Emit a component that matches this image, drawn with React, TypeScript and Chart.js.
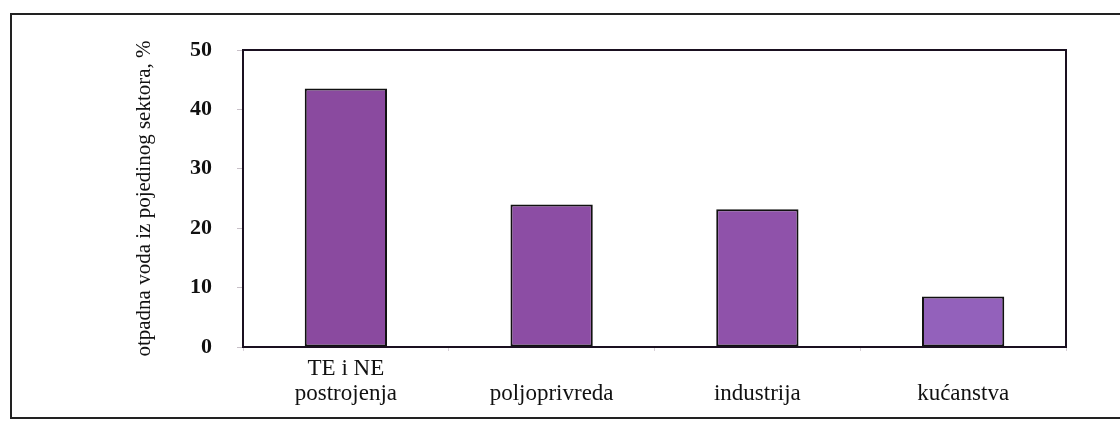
import React, { useEffect, useRef } from "react";
import { Chart, registerables } from "chart.js";

Chart.register(...registerables);

const categories: string[][] = [["TE i NE", "postrojenja"], ["", "poljoprivreda"], ["", "industrija"], ["", "kućanstva"]];
const values: number[] = [43.5, 24, 23.2, 8.5];
const yTicks: number[] = [0, 10, 20, 30, 40, 50];
const yTitle = "otpadna voda iz pojedinog sektora, %";
const barColors: string[] = ["#8a4a9f", "#8c4da4", "#8f52aa", "#9361bb"];

const framePlugin = {
  id: "frameBox",
  afterDatasetsDraw(chart: any) {
    const { ctx, chartArea } = chart;
    ctx.save();
    ctx.strokeStyle = "#1a1020";
    ctx.lineWidth = 2;
    ctx.strokeRect(chartArea.left, chartArea.top, chartArea.right - chartArea.left, chartArea.bottom - chartArea.top);
    ctx.restore();
  },
};

export default function App() {
  const ref = useRef<HTMLCanvasElement | null>(null);
  useEffect(() => {
    if (!ref.current) return;
    const chart = new Chart(ref.current, {
      type: "bar",
      data: {
        labels: categories,
        datasets: [
          {
            data: values,
            backgroundColor: barColors,
            borderColor: "#111",
            borderWidth: 2,
            borderSkipped: false,
            barPercentage: 0.4,
            categoryPercentage: 1,
          },
        ],
      },
      options: {
        animation: false,
        responsive: false,
        maintainAspectRatio: false,
        layout: { padding: { left: 132, top: 50, right: 54, bottom: 0 } },
        plugins: { legend: { display: false }, tooltip: { enabled: false } },
        scales: {
          x: {
            grid: { display: true, drawOnChartArea: false, offset: true, tickLength: 4, color: "#d8d0d8" },
            border: { display: false },
            ticks: {
              padding: 6,
              color: "#111",
              font: { family: "'Liberation Serif', serif", size: 23, lineHeight: 1.08 },
              maxRotation: 0,
            },
            afterFit: (s: any) => {
              s.height = 78;
            },
          },
          y: {
            min: 0,
            max: 50,
            afterBuildTicks: (s: any) => {
              s.ticks = yTicks.map((v) => ({ value: v }));
            },
            grid: { display: true, drawOnChartArea: false, tickLength: 6, color: "#c8c0c8" },
            border: { display: false },
            ticks: {
              padding: 25,
              color: "#111",
              font: { family: "'Liberation Serif', serif", size: 22, weight: "bold" },
            },
            title: {
              display: true,
              text: yTitle,
              color: "#111",
              padding: 0,
              font: { family: "'Liberation Serif', serif", size: 21 },
            },
            afterFit: (s: any) => {
              s.width = 111;
            },
          },
        },
      },
      plugins: [framePlugin],
    });
    return () => chart.destroy();
  }, []);

  return (
    <div style={{ position: "fixed", left: 0, top: 0, width: 1120, height: 425, background: "#fff", overflow: "hidden" }}>
      <div
        style={{
          position: "absolute",
          left: 10,
          top: 13,
          width: 1130,
          height: 406,
          border: "2px solid #222",
          boxSizing: "border-box",
        }}
      />
      <canvas ref={ref} width={1120} height={425} style={{ position: "absolute", left: 0, top: 0 }} />
    </div>
  );
}
